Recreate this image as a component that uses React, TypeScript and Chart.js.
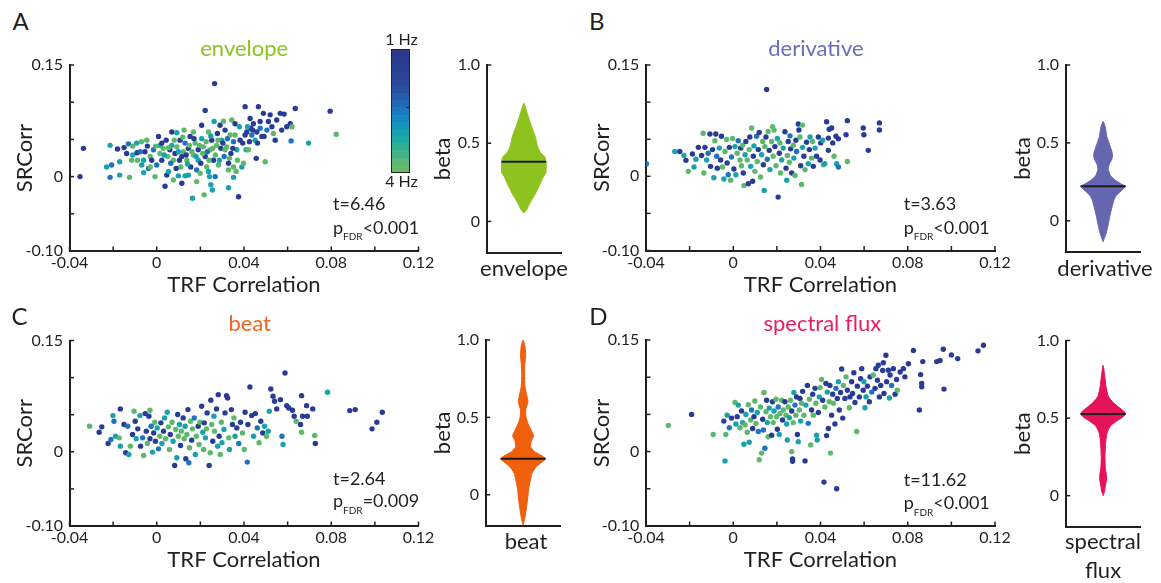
import React, { useEffect, useRef } from 'react';
import { Chart, registerables } from 'chart.js';

Chart.register(...registerables);

const FONT = "Lato, 'DejaVu Sans', sans-serif";
const INK = '#231f20';
const TICK_SIZE = 16;
const TITLE_SIZE = 22;

// frequency classes: 0 ≈ 1 Hz (dark blue) … 3 ≈ 4 Hz (green)
const freqColors = ['#283b95', '#1f72bd', '#19a1ac', '#5cb86a'];
const colorbarColors = ['#2a3a8d', '#2b3c90', '#2b3f94', '#2b4398', '#2b479c', '#2a4ea2', '#275aa9', '#2068b3', '#1a78bd', '#1687c0', '#1595bb', '#17a1b0', '#1ea9a2', '#2fae94', '#43b286', '#57b679', '#67ba6c'];

const xTickValues = [-0.04, -0.02, 0, 0.02, 0.04, 0.06, 0.08, 0.1, 0.12];
const xTickLabels = ['-0.04', '', '0', '', '0.04', '', '0.08', '', '0.12'];
const yTickValues = [-0.1, -0.05, 0, 0.05, 0.1, 0.15];
const yTickLabels = ['-0.10', '', '0', '', '', '0.15'];
const betaTickValues = [0, 0.5, 1];
const betaTickLabels = ['0', '0.5', '1.0'];

// [TRF correlation, SRCorr, frequency class]
const envelopePoints = [
  [-0.0352, 0, 0], [-0.0336, 0.038, 0], [-0.023, 0.013, 2], [-0.0214, 0.042, 2], [-0.0214, -0.001, 1], [-0.0207, 0.0156, 1], [-0.018, 0.037, 0], [-0.017, 0.002, 2], [-0.017, 0.02, 2], [-0.015, 0.039, 0], [-0.013, 0.044, 1], [-0.0125, -0.001, 3], [-0.0115, 0.022, 3], [-0.011, 0.029, 2], [-0.011, 0.041, 3], [-0.009, 0.032, 0], [-0.0076, 0.0335, 1], [-0.007, 0.047, 3], [-0.006, 0.022, 2], [-0.006, 0.0054, 2], [-0.0054, 0.0335, 0], [-0.0046, 0.049, 3], [-0.0043, 0.041, 0], [-0.0038, 0.011, 1], [-0.003, 0.027, 3], [-0.0023, 0.022, 0], [-0.0015, 0.036, 1], [-0.0008, 0, 3], [0, 0.0156, 1], [0.0008, 0.054, 0], [0.0015, 0.042, 2], [0.0015, 0.031, 3], [0.0023, 0.022, 0], [0.003, 0.038, 3], [0.0038, -0.013, 0], [0.0043, 0.049, 0], [0.0046, 0.002, 0], [0.005, 0.027, 3], [0.0054, 0.007, 2], [0.006, 0.036, 0], [0.0069, 0.06, 0], [0.0069, 0.042, 2], [0.0076, 0.022, 3], [0.0084, 0.031, 0], [0.0092, 0.059, 2], [0.0092, 0.04, 3], [0.0099, 0.001, 2], [0.0107, 0.049, 0], [0.011, 0.013, 3], [0.0115, -0.009, 0], [0.0115, 0.027, 0], [0.0122, 0.0335, 3], [0.0125, 0.0625, 3], [0.013, 0.045, 1], [0.013, 0.001, 2], [0.0138, 0.022, 3], [0.0145, 0.038, 0], [0.0153, 0.054, 0], [0.0156, 0.013, 0], [0.0164, -0.029, 2], [0.0168, 0.029, 3], [0.0168, 0.06, 3], [0.0176, 0.045, 3], [0.0183, 0.009, 1], [0.0183, -0.0067, 3], [0.019, 0.036, 0], [0.019, 0.022, 2], [0.0199, 0.0045, 3], [0.0206, 0.069, 0], [0.0206, 0.051, 2], [0.0214, 0.04, 3], [0.0217, -0.0245, 3], [0.0222, 0.089, 0], [0.0222, 0.027, 0], [0.0229, 0.013, 3], [0.0237, 0.06, 3], [0.0242, 0, 2], [0.0245, 0.036, 3], [0.0248, -0.011, 2], [0.0252, 0.049, 0], [0.0255, -0.018, 2], [0.026, 0.022, 0], [0.0263, 0.074, 2], [0.0265, 0.125, 0], [0.0268, 0, 1], [0.0275, 0.042, 3], [0.0278, 0.058, 0], [0.0283, 0.0156, 3], [0.029, 0.069, 0], [0.0294, 0.038, 0], [0.0298, 0.049, 2], [0.0306, 0.0745, 3], [0.0309, 0.027, 1], [0.0313, 0.0625, 0], [0.0321, 0.04, 3], [0.0329, -0.015, 2], [0.0329, 0.018, 0], [0.0336, 0.056, 3], [0.034, 0.031, 0], [0.0344, 0.076, 3], [0.0352, 0.047, 1], [0.0352, 0.013, 3], [0.0359, 0.071, 0], [0.0364, 0.007, 3], [0.0367, 0.036, 2], [0.0375, -0.027, 0], [0.0379, 0.067, 2], [0.0382, 0.049, 0], [0.039, 0.013, 2], [0.0398, 0.018, 3], [0.0405, 0.094, 0], [0.041, 0.036, 2], [0.0413, 0.06, 0], [0.042, 0.036, 3], [0.0428, 0.078, 0], [0.0431, 0.065, 0], [0.0436, 0.056, 1], [0.0443, 0.071, 0], [0.0451, 0.049, 2], [0.0456, 0.0245, 0], [0.0459, 0.06, 0], [0.0466, 0.094, 0], [0.0474, 0.074, 0], [0.0482, 0.054, 0], [0.0489, 0.085, 0], [0.0497, 0.02, 3], [0.0505, 0.0625, 1], [0.0512, 0.074, 0], [0.052, 0.083, 0], [0.0535, 0.058, 3], [0.055, 0.076, 0], [0.0566, 0.085, 0], [0.0573, 0.0625, 0], [0.0584, 0.084, 0], [0.0596, 0.067, 0], [0.0612, 0.071, 0], [0.0616, 0.048, 1], [0.062, 0.067, 3], [0.0635, 0.0915, 0], [0.0696, 0.045, 2], [0.0795, 0.088, 0], [0.0823, 0.057, 3],
  [0.0023, 0.045, 0], [0.0034, 0.029, 2], [0.0054, 0.039, 3], [0.0064, 0.018, 1], [0.008, 0.049, 3], [0.0089, 0.011, 0], [0.0099, 0.0335, 2], [0.0104, 0.022, 0], [0.0119, 0.053, 3], [0.0135, 0.029, 0], [0.0141, 0.017, 2], [0.015, 0.042, 3], [0.0161, 0.0335, 3], [0.0171, 0.051, 0], [0.018, 0.027, 2], [0.0196, 0.042, 3], [0.0202, 0.018, 0], [0.0211, 0.031, 3], [0.0226, 0.047, 3], [0.0232, 0.0335, 1], [0.024, 0.022, 3], [0.0248, 0.0545, 2], [0.0257, 0.038, 3], [0.0269, 0.029, 3], [0.0281, 0.049, 3], [0.0287, 0.022, 2], [0.0303, 0.045, 0], [0.0313, 0.036, 3], [0.0324, 0.051, 1], [0.0333, 0.0245, 3], [0.0349, 0.038, 0], [0.0359, 0.056, 3], [0.037, 0.022, 3], [0.0394, 0.045, 0], [0.0405, 0.056, 0], [0.0416, 0.067, 2], [0.0425, 0.047, 0], [0.044, 0.0625, 0], [0.0462, 0.045, 0], [0.0474, 0.065, 1], [0.0492, 0.054, 0], [0.0528, 0.067, 0], [0.0543, 0.049, 0], [-0.003, 0.013, 3], [-0.0069, 0.0156, 2], [-0.0089, 0.022, 3], [-0.0138, 0.031, 0], [-0.0092, 0.045, 2], [-0.0005, 0.041, 3], [0.0076, -0.0045, 3], [0.0145, 0.002, 2], [0.0352, -0.001, 2], [0.0329, 0.009, 3], [0.0237, 0.007, 2],
];

const derivativePoints = [
  [-0.0398, 0.017, 1], [-0.0268, 0.0335, 2], [-0.0245, 0.0335, 0], [-0.0226, 0.028, 2], [-0.0217, 0.0215, 0], [-0.0206, 0.0067, 3], [-0.0187, 0.03, 0], [-0.018, 0.0125, 2], [-0.0171, 0.023, 2], [-0.016, 0.039, 0], [-0.0145, 0.028, 0], [-0.0138, 0.058, 3], [-0.0135, 0.0045, 3], [-0.013, 0.039, 0], [-0.0122, 0.022, 2], [-0.0115, 0.031, 1], [-0.0107, 0.057, 0], [-0.0104, 0.0134, 0], [-0.0095, 0.036, 0], [-0.0089, -0.002, 2], [-0.0084, 0.048, 3], [-0.008, 0.057, 0], [-0.0076, 0.027, 1], [-0.0073, 0.011, 0], [-0.0064, 0.038, 2], [-0.0058, 0.022, 0], [-0.0054, 0.054, 0], [-0.0049, 0.0125, 3], [-0.0043, -0.0036, 2], [-0.0038, 0.0335, 3], [-0.003, 0.0495, 3], [-0.0028, 0.018, 0], [-0.0023, 0.002, 1], [-0.0018, 0.039, 0], [-0.0012, -0.0054, 3], [-0.0008, 0.026, 1], [-0.0003, 0.051, 3], [0.0003, 0.0098, 0], [0.0008, 0.04, 2], [0.0012, 0.002, 2], [0.0018, 0.031, 3], [0.0023, 0.048, 1], [0.0031, 0.022, 3], [0.0034, 0.038, 0], [0.0038, 0.0143, 3], [0.0043, 0.042, 3], [0.0046, 0.0045, 0], [0.0049, -0.0125, 3], [0.0054, 0.029, 2], [0.0058, 0.047, 0], [0.0064, 0.022, 3], [0.0069, -0.01, 0], [0.0073, 0.036, 3], [0.0076, 0.053, 0], [0.008, 0.0134, 2], [0.0084, 0.065, 3], [0.0089, -0.0067, 0], [0.0092, 0.027, 0], [0.0095, 0.041, 2], [0.0099, 0.0067, 3], [0.0107, 0.054, 1], [0.011, 0.02, 3], [0.0115, 0.036, 0], [0.0119, 0.059, 0], [0.0125, -0.001, 3], [0.013, 0.029, 2], [0.0135, 0.047, 3], [0.0138, 0.0156, 0], [0.0142, -0.019, 2], [0.0145, 0.04, 3], [0.015, 0.053, 0], [0.0153, 0.117, 0], [0.0156, 0.023, 1], [0.016, 0.0605, 3], [0.0165, 0.035, 0], [0.0168, 0.009, 2], [0.0176, 0.047, 3], [0.018, 0.067, 3], [0.0183, 0.027, 3], [0.0187, 0.0625, 3], [0.0191, 0.04, 0], [0.0196, 0.0143, 3], [0.0202, 0.051, 2], [0.0206, -0.028, 0], [0.0211, 0.031, 0], [0.0214, 0.045, 3], [0.0217, 0.0045, 3], [0.0222, 0.022, 2], [0.0229, 0.038, 2], [0.0237, 0.06, 0], [0.0242, 0.011, 0], [0.0245, -0.0054, 2], [0.0248, 0.028, 3], [0.0252, 0.047, 0], [0.0257, 0.019, 3], [0.026, 0.0545, 1], [0.0263, 0.037, 0], [0.0268, 0.0045, 0], [0.0275, 0.042, 3], [0.0278, 0.0245, 2], [0.0283, 0.001, 3], [0.0287, 0.0485, 0], [0.029, 0.0335, 1], [0.0298, 0.0705, 0], [0.0301, 0.0625, 0], [0.0306, 0.053, 3], [0.0309, 0.0143, 0], [0.0313, -0.011, 3], [0.0317, 0.069, 3], [0.0318, 0.039, 2], [0.0324, 0.027, 0], [0.0329, 0.009, 3], [0.0336, 0.046, 0], [0.0344, 0.017, 2], [0.0349, 0.036, 0], [0.0352, 0.053, 2], [0.0359, 0.0245, 3], [0.0364, 0.047, 3], [0.0367, 0.0134, 0], [0.0375, 0.038, 2], [0.0382, 0.027, 0], [0.039, 0.053, 0], [0.0398, 0.022, 0], [0.0401, 0.045, 0], [0.041, 0.0485, 2], [0.0413, 0.0156, 3], [0.042, 0.017, 2], [0.0428, 0.0735, 0], [0.0436, 0.035, 0], [0.044, 0.0635, 0], [0.0451, 0.065, 0], [0.0456, 0.045, 0], [0.0462, 0.027, 3], [0.0471, 0.054, 0], [0.0474, 0.017, 2], [0.0482, 0.0505, 0], [0.0482, 0.0125, 1], [0.0523, 0.02, 3], [0.0517, 0.056, 0], [0.0523, 0.075, 0], [0.0596, 0.065, 0], [0.0599, 0.056, 0], [0.0619, 0.035, 0], [0.067, 0.072, 0], [0.067, 0.0625, 0], [0.0436, 0.0515, 0],
];

const beatPoints = [
  [-0.0308, 0.0345, 3], [-0.0264, 0.0264, 0], [-0.0252, 0.0336, 0], [-0.0223, 0.0112, 0], [-0.021, 0.0166, 1], [-0.0201, 0.0488, 2], [-0.0196, 0.0412, 1], [-0.0189, 0.021, 2], [-0.0172, 0.0188, 3], [-0.0167, 0.0578, 0], [-0.0167, 0.0076, 2], [-0.015, 0.0367, 0], [-0.0142, -0.0013, 0], [-0.0133, 0.0345, 1], [-0.0128, -0.0036, 2], [-0.0121, 0.0076, 3], [-0.0111, 0.0233, 0], [-0.0104, 0.0546, 3], [-0.0099, 0.0412, 0], [-0.0094, 0.0175, 2], [-0.0087, 0.0309, 0], [-0.0077, 0.0488, 2], [-0.0074, 0.0076, 0], [-0.0065, 0.0188, 1], [-0.006, -0.0049, 3], [-0.0053, 0.0515, 0], [-0.0048, 0.0278, 0], [-0.0043, 0.0112, 3], [-0.0036, 0.0479, 0], [-0.0031, 0.056, 3], [-0.0031, 0.0175, 0], [-0.0026, 0.0345, 1], [-0.0019, -0.0004, 2], [-0.0014, 0.0255, 0], [-0.0009, 0.0399, 3], [-0.0006, 0.0143, 0], [0.0002, 0.0322, 2], [0.0008, 0.004, 1], [0.0014, 0.021, 3], [0.0019, 0.039, 0], [0.0024, 0.0112, 2], [0.0031, 0.0278, 0], [0.0036, 0.0457, 2], [0.0041, 0.0175, 3], [0.0048, 0.0533, 2], [0.0053, 0.0336, 3], [0.0058, 0.0031, 3], [0.0062, 0.0233, 0], [0.007, 0.0399, 3], [0.0075, 0.0143, 2], [0.0082, -0.0184, 0], [0.0087, 0.03, 3], [0.0092, -0.0081, 2], [0.0096, 0.0502, 0], [0.0099, 0.021, 3], [0.0104, 0.0367, 2], [0.0109, 0.0085, 0], [0.0113, 0.0278, 3], [0.0121, 0.0457, 0], [0.0126, 0.0175, 3], [0.013, 0.0345, 2], [0.0133, -0.0094, 0], [0.0138, 0.0233, 3], [0.0143, 0.0569, 0], [0.0147, -0.0148, 1], [0.015, 0.0054, 3], [0.0155, 0.0412, 3], [0.016, 0.0157, 0], [0.0164, 0.0309, 3], [0.0172, 0.0457, 1], [0.0177, -0.0036, 2], [0.0181, 0.021, 3], [0.019, 0.0345, 0], [0.0194, 0.0099, 3], [0.0198, 0.0399, 3], [0.0206, 0.0614, 0], [0.0211, 0.0264, 2], [0.0215, 0.0031, 3], [0.0218, 0.039, 0], [0.0223, 0.0188, 2], [0.0228, 0.0309, 3], [0.0231, 0.0524, 0], [0.024, -0.0184, 0], [0.0245, -0.0013, 3], [0.0248, 0.0694, 0], [0.0252, 0.0367, 3], [0.0257, 0.0143, 0], [0.0262, 0.0479, 2], [0.0265, 0.0278, 3], [0.0274, 0.0578, 0], [0.0279, 0.0076, 2], [0.0282, 0.077, 0], [0.0286, 0.021, 0], [0.0291, -0.0036, 3], [0.0296, 0.0399, 3], [0.0299, 0.0121, 2], [0.0308, 0.03, 2], [0.0313, 0.0524, 0], [0.032, 0.0757, 0], [0.0325, 0.0725, 0], [0.033, 0.0188, 3], [0.0333, 0.0031, 2], [0.0342, 0.0569, 0], [0.0347, 0.0367, 0], [0.0354, 0.0457, 3], [0.0359, 0.021, 2], [0.0367, 0.0322, 0], [0.0376, 0.0112, 1], [0.0384, 0.0399, 0], [0.0393, 0.0255, 3], [0.0401, 0.0031, 3], [0.0405, 0.0533, 0], [0.0415, -0.0139, 1], [0.0418, 0.0367, 0], [0.0427, 0.0873, 0], [0.0435, 0.0488, 0], [0.0444, 0.021, 2], [0.0452, 0.0515, 0], [0.0461, 0.0322, 1], [0.0469, 0.0121, 3], [0.0477, 0.0412, 0], [0.0486, 0.0255, 0], [0.0494, 0.0345, 2], [0.0503, 0.021, 3], [0.0511, 0.0278, 2], [0.0516, 0.0546, 2], [0.0523, 0.0846, 0], [0.0533, 0.0748, 0], [0.054, 0.0681, 0], [0.055, 0.0578, 0], [0.0567, 0.0703, 0], [0.0574, 0.021, 1], [0.0579, 0.0099, 2], [0.0588, 0.1061, 0], [0.0596, 0.0622, 0], [0.0605, 0.0591, 0], [0.0622, 0.056, 0], [0.063, 0.0479, 0], [0.0639, 0.0412, 3], [0.0659, 0.0367, 0], [0.0664, 0.0757, 0], [0.0669, 0.0479, 0], [0.0664, 0.0264, 3], [0.0687, 0.0622, 0], [0.069, 0.0479, 0], [0.0715, 0.0578, 0], [0.0724, 0.0219, 3], [0.0727, 0.0112, 0], [0.0783, 0.0802, 2], [0.0885, 0.0555, 0], [0.091, 0.0569, 0], [0.0987, 0.0309, 0], [0.1009, 0.0399, 0], [0.1034, 0.0533, 0],
];

const spectralFluxPoints = [
  [-0.0298, 0.035, 3], [-0.0191, 0.05, 0], [-0.0092, 0.023, 3], [-0.0038, -0.0125, 2], [-0.0043, 0.041, 0], [-0.0034, 0.023, 3], [-0.0028, 0.049, 2], [-0.0018, 0.032, 1], [-0.0008, 0.045, 0], [0.0008, 0.066, 3], [0.0012, 0.037, 2], [0.0018, 0.047, 0], [0.0023, 0.0625, 2], [0.0031, 0.032, 3], [0.0038, 0.0545, 0], [0.0043, 0.039, 2], [0.0049, 0.0098, 2], [0.0054, 0.036, 3], [0.0058, 0.05, 2], [0.0064, 0.026, 3], [0.0069, 0.063, 3], [0.0073, 0.0125, 2], [0.008, 0.0425, 3], [0.0084, 0.056, 1], [0.0089, 0.031, 0], [0.0095, 0.047, 0], [0.0099, 0.068, 3], [0.0104, 0.038, 3], [0.011, 0.0525, 2], [0.0115, 0.027, 1], [0.0119, -0.011, 3], [0.0125, 0.06, 3], [0.013, -0.002, 3], [0.0135, 0.0435, 0], [0.0138, 0.029, 1], [0.0141, 0.0795, 3], [0.0145, 0.0045, 1], [0.015, 0.0535, 3], [0.0153, 0.069, 0], [0.0156, 0.039, 2], [0.016, 0.02, 3], [0.0165, 0.0585, 2], [0.0171, 0.047, 3], [0.0176, 0.022, 0], [0.018, 0.067, 0], [0.0183, 0.039, 3], [0.0187, 0.0545, 2], [0.0196, 0.0705, 3], [0.0199, 0.047, 3], [0.0202, 0.03, 0], [0.0206, 0.06, 1], [0.0211, 0.023, 2], [0.0214, 0.051, 3], [0.0222, 0.069, 3], [0.0226, 0.0425, 0], [0.0229, 0.056, 3], [0.0237, 0.067, 0], [0.0242, 0.049, 3], [0.0245, 0.037, 2], [0.0248, 0.0156, 2], [0.0252, 0.06, 3], [0.0257, 0.0455, 2], [0.0263, 0.069, 3], [0.0268, 0, 3], [0.0268, 0.0545, 0], [0.0272, -0.01, 0], [0.0272, -0.013, 0], [0.0275, 0.039, 3], [0.0278, 0.0795, 2], [0.0283, 0.0625, 1], [0.0287, 0.049, 3], [0.029, 0.0735, 0], [0.0294, 0.023, 0], [0.0298, 0.0134, 2], [0.0303, 0.056, 3], [0.0306, 0.0715, 0], [0.0309, 0.041, 2], [0.0313, 0.065, 3], [0.0318, 0.081, 0], [0.0324, 0.049, 3], [0.0329, -0.0125, 0], [0.0333, 0.0625, 2], [0.034, 0.089, 0], [0.0344, 0.038, 1], [0.0349, 0.0705, 3], [0.0355, 0.009, 3], [0.0359, 0.056, 0], [0.0364, 0.077, 0], [0.0367, 0.049, 3], [0.0375, 0.085, 0], [0.0379, 0.065, 3], [0.0382, 0.022, 2], [0.0385, 0.0156, 2], [0.039, 0.0525, 0], [0.0394, 0.0735, 2], [0.0398, 0.086, 3], [0.0405, 0.097, 3], [0.041, 0.069, 0], [0.0416, -0.041, 0], [0.042, 0.06, 3], [0.0425, 0.0915, 0], [0.0428, 0.0215, 0], [0.0431, 0.08, 2], [0.0436, 0.031, 0], [0.044, 0.067, 3], [0.0443, 0.089, 0], [0.0446, -0.002, 3], [0.0451, 0.049, 0], [0.0456, 0.077, 0], [0.0459, 0.065, 3], [0.0466, 0.037, 0], [0.0471, 0.085, 1], [0.0474, -0.05, 0], [0.0477, 0.0715, 0], [0.0482, 0.094, 2], [0.0486, 0.056, 0], [0.0492, 0.0795, 0], [0.0497, 0.111, 0], [0.0502, 0.045, 0], [0.0505, 0.089, 3], [0.0512, 0.0715, 0], [0.0517, 0.1005, 3], [0.0523, 0.0825, 0], [0.0532, 0.059, 3], [0.0535, 0.0735, 0], [0.0543, 0.094, 0], [0.0547, 0.078, 0], [0.0553, 0.106, 0], [0.0558, 0.066, 0], [0.0566, 0.027, 3], [0.0569, 0.088, 0], [0.0578, 0.0735, 0], [0.0584, 0.098, 0], [0.0589, 0.1115, 0], [0.0596, 0.0825, 0], [0.0599, 0.094, 2], [0.0604, 0.059, 2], [0.0609, 0.0735, 2], [0.0615, 0.088, 0], [0.0624, 0.067, 0], [0.0627, 0.1005, 0], [0.0635, 0.08, 1], [0.0642, 0.103, 3], [0.065, 0.085, 0], [0.0654, 0.1115, 0], [0.0661, 0.096, 0], [0.0665, 0.116, 0], [0.067, 0.0735, 0], [0.0676, 0.089, 0], [0.0685, 0.109, 0], [0.0688, 0.1195, 0], [0.0691, 0.078, 0], [0.07, 0.1295, 0], [0.0703, 0.094, 0], [0.0711, 0.1095, 0], [0.0716, 0.072, 2], [0.0719, 0.103, 0], [0.0726, 0.089, 1], [0.0734, 0.1115, 0], [0.0742, 0.077, 0], [0.0749, 0.097, 0], [0.0752, 0.0825, 3], [0.0765, 0.107, 0], [0.078, 0.1115, 0], [0.0787, 0.1005, 0], [0.0803, 0.118, 0], [0.0826, 0.136, 0], [0.0853, 0.056, 0], [0.0859, 0.1035, 0], [0.0864, 0.0915, 0], [0.0864, 0.087, 0], [0.0869, 0.121, 0], [0.0933, 0.121, 0], [0.0948, 0.1225, 0], [0.0963, 0.1375, 0], [0.0966, 0.084, 0], [0.1, 0.13, 0], [0.1029, 0.125, 0], [0.1122, 0.1354, 0], [0.1147, 0.143, 0],
];

// violin outlines: beta levels (bottom→top) and half-widths (relative)
const envelopeLevels = [0.054, 0.08, 0.117, 0.181, 0.245, 0.287, 0.309, 0.33, 0.381, 0.415, 0.44, 0.479, 0.542, 0.606, 0.67, 0.7, 0.756];
const envelopeWidths = [0, 0.09, 0.16, 0.32, 0.45, 0.53, 0.59, 0.6, 0.6, 0.56, 0.45, 0.37, 0.31, 0.21, 0.12, 0.08, 0];
const envelopeMedian = 0.381;

const derivativeLevels = [-0.134, -0.08, -0.03, 0.03, 0.09, 0.14, 0.17, 0.2, 0.222, 0.235, 0.26, 0.29, 0.33, 0.36, 0.4, 0.43, 0.47, 0.54, 0.6, 0.638];
const derivativeWidths = [0, 0.08, 0.13, 0.18, 0.24, 0.3, 0.38, 0.52, 0.6, 0.5, 0.33, 0.2, 0.14, 0.16, 0.24, 0.25, 0.2, 0.1, 0.06, 0];
const derivativeMedian = 0.222;

const beatLevels = [-0.195, -0.16, -0.1, -0.03, 0.04, 0.1, 0.14, 0.18, 0.21, 0.233, 0.255, 0.28, 0.31, 0.35, 0.38, 0.41, 0.45, 0.5, 0.55, 0.6, 0.64, 0.7, 0.78, 0.85, 0.9, 0.96, 1.0];
const beatWidths = [0, 0.04, 0.08, 0.12, 0.15, 0.2, 0.24, 0.35, 0.5, 0.6, 0.48, 0.3, 0.2, 0.22, 0.28, 0.23, 0.15, 0.08, 0.07, 0.13, 0.1, 0.05, 0.035, 0.05, 0.07, 0.05, 0];
const beatMedian = 0.233;

const spectralLevels = [0, 0.03, 0.06, 0.1, 0.13, 0.18, 0.25, 0.33, 0.4, 0.45, 0.48, 0.505, 0.527, 0.545, 0.57, 0.6, 0.64, 0.7, 0.78, 0.84];
const spectralWidths = [0, 0.04, 0.06, 0.09, 0.09, 0.06, 0.05, 0.065, 0.1, 0.2, 0.36, 0.52, 0.6, 0.55, 0.42, 0.27, 0.14, 0.08, 0.04, 0];
const spectralMedian = 0.527;

const featureColors = { envelope: '#8dc21f', derivative: '#6466b0', beat: '#ef5f0c', spectral: '#e5135b' };

function inwardTicks(axes: string[], len: number) {
  return {
    id: 'inwardTicks',
    afterDraw(chart: any) {
      const { ctx, chartArea } = chart;
      ctx.save();
      ctx.strokeStyle = INK;
      ctx.lineWidth = 1.5;
      for (const id of axes) {
        const scale = chart.scales[id];
        for (const t of scale.ticks) {
          const p = scale.getPixelForValue(t.value);
          ctx.beginPath();
          if (scale.isHorizontal()) {
            ctx.moveTo(p, chartArea.bottom);
            ctx.lineTo(p, chartArea.bottom - len);
          } else {
            ctx.moveTo(chartArea.left, p);
            ctx.lineTo(chartArea.left + len, p);
          }
          ctx.stroke();
        }
      }
      ctx.restore();
    },
  };
}

const tickFont = { family: FONT, size: TICK_SIZE };
const titleFont = { family: FONT, size: TITLE_SIZE };

function scatterConfig(points: number[][], L: any) {
  const { x, y, w, h, area } = L;
  const tickLH = TICK_SIZE * 1.2;
  const titleLH = TITLE_SIZE * 1.2;
  return {
    type: 'scatter',
    data: {
      datasets: [{
        data: points.map((p) => ({ x: p[0], y: p[1] })),
        pointBackgroundColor: points.map((p) => freqColors[p[2]]),
        pointBorderWidth: 0,
        pointRadius: 2.7,
        pointHoverRadius: 2.7,
      }],
    },
    options: {
      responsive: false, animation: false, events: [],
      layout: { padding: { left: 0, top: area.t - y, right: x + w - area.r, bottom: 0 } },
      plugins: { legend: { display: false }, tooltip: { enabled: false } },
      scales: {
        x: {
          type: 'linear', min: -0.04, max: 0.12,
          afterBuildTicks: (s: any) => { s.ticks = xTickValues.map((v) => ({ value: v })); },
          afterFit: (s: any) => { s.height = y + h - area.b; },
          grid: { display: false, drawTicks: false },
          border: { display: true, color: INK, width: 2 },
          ticks: { autoSkip: false, maxRotation: 0, minRotation: 0, color: INK, font: tickFont, padding: L.xLabelMid - area.b - tickLH / 2, callback: (_v: any, i: number) => xTickLabels[i] },
          title: { display: true, text: 'TRF Correlation', color: INK, font: titleFont, padding: { top: 0, bottom: y + h - L.xTitleMid - titleLH / 2 } },
        },
        y: {
          type: 'linear', min: -0.1, max: 0.15,
          afterBuildTicks: (s: any) => { s.ticks = yTickValues.map((v) => ({ value: v })); },
          afterFit: (s: any) => { s.width = area.l - x; },
          grid: { display: false, drawTicks: false },
          border: { display: true, color: INK, width: 2 },
          ticks: { autoSkip: false, color: INK, font: tickFont, padding: area.l - L.yLabelRight, callback: (_v: any, i: number) => yTickLabels[i] },
          title: { display: true, text: 'SRCorr', color: INK, font: titleFont, padding: { top: L.yTitleMid - x - titleLH / 2, bottom: 0 } },
        },
      },
    },
    plugins: [inwardTicks(['x', 'y'], 4.5)],
  };
}

function violinConfig(levels: number[], widths: number[], median: number, color: string, L: any) {
  const { x, y, w, h, area } = L;
  const titleLH = TITLE_SIZE * 1.2;
  const outline: any[] = levels.map((l, i) => ({ x: widths[i], y: l }));
  for (let i = levels.length - 2; i >= 1; i--) outline.push({ x: -widths[i], y: levels[i] });
  outline.push({ x: widths[0], y: levels[0] });
  const mw = widths[levels.indexOf(median)];
  return {
    type: 'scatter',
    data: {
      datasets: [
        // dataset 0 is drawn last (on top): the median bar
        { data: [{ x: -mw, y: median }, { x: mw, y: median }], showLine: true, fill: false, borderColor: '#1a1a1a', borderWidth: 2, pointRadius: 0 },
        { data: outline, showLine: true, fill: 'shape', backgroundColor: color, borderColor: color, borderWidth: 1, pointRadius: 0, tension: 0.2 },
      ],
    },
    options: {
      responsive: false, animation: false, events: [],
      layout: { padding: { left: 0, top: area.t - y, right: x + w - area.r, bottom: 0 } },
      plugins: { legend: { display: false }, tooltip: { enabled: false } },
      scales: {
        x: {
          type: 'linear', min: -1, max: 1,
          afterFit: (s: any) => { s.height = y + h - area.b; },
          grid: { display: false, drawTicks: false },
          border: { display: true, color: INK, width: 2 },
          ticks: { display: false },
        },
        y: {
          type: 'linear', min: -0.2, max: 1,
          afterBuildTicks: (s: any) => { s.ticks = betaTickValues.map((v) => ({ value: v })); },
          afterFit: (s: any) => { s.width = area.l - x; },
          grid: { display: false, drawTicks: false },
          border: { display: true, color: INK, width: 2 },
          ticks: { autoSkip: false, color: INK, font: tickFont, padding: area.l - L.yLabelRight, callback: (_v: any, i: number) => betaTickLabels[i] },
          title: { display: true, text: 'beta', color: INK, font: titleFont, padding: { top: L.yTitleMid - x - titleLH / 2, bottom: 0 } },
        },
      },
    },
    plugins: [inwardTicks(['y'], 4.5)],
  };
}

const scatterLayouts = {
  A: { x: 0, y: 40, w: 440, h: 260, area: { l: 69.5, r: 418.5, t: 65, b: 251 }, xLabelMid: 263.3, xTitleMid: 285, yLabelRight: 63, yTitleMid: 25 },
  B: { x: 576, y: 40, w: 440, h: 260, area: { l: 646, r: 995, t: 65, b: 250.5 }, xLabelMid: 262.8, xTitleMid: 284.5, yLabelRight: 639.3, yTitleMid: 602 },
  C: { x: 0, y: 315, w: 440, h: 275, area: { l: 69.5, r: 418.5, t: 340.5, b: 526 }, xLabelMid: 538.3, xTitleMid: 559.5, yLabelRight: 63, yTitleMid: 25 },
  D: { x: 576, y: 315, w: 440, h: 275, area: { l: 646, r: 995, t: 340, b: 526 }, xLabelMid: 538.3, xTitleMid: 559.5, yLabelRight: 639.3, yTitleMid: 602 },
};
const violinLayouts = {
  A: { x: 425, y: 40, w: 150, h: 260, area: { l: 486.7, r: 561, t: 65, b: 252.7 }, yLabelRight: 480, yTitleMid: 442.5 },
  B: { x: 1005, y: 40, w: 150, h: 260, area: { l: 1065.7, r: 1140.5, t: 65, b: 252 }, yLabelRight: 1059, yTitleMid: 1022.5 },
  C: { x: 425, y: 315, w: 150, h: 275, area: { l: 485.7, r: 560.5, t: 340, b: 525.7 }, yLabelRight: 479, yTitleMid: 442.5 },
  D: { x: 1005, y: 315, w: 150, h: 275, area: { l: 1065.7, r: 1140.5, t: 340.5, b: 526.7 }, yLabelRight: 1059, yTitleMid: 1022.5 },
};

function ChartBox({ box, make }: any) {
  const ref = useRef<HTMLCanvasElement>(null);
  useEffect(() => {
    const chart = new Chart(ref.current as any, make());
    return () => chart.destroy();
  }, []);
  return <canvas ref={ref} width={box.w} height={box.h} style={{ position: 'absolute', left: box.x, top: box.y, width: box.w, height: box.h }} />;
}

function Label({ x, base, size, color = INK, align = 'center', children }: any) {
  const style: any = {
    position: 'absolute', left: x, top: base - 0.887 * size, fontSize: size, lineHeight: `${size}px`,
    fontFamily: FONT, color, whiteSpace: 'nowrap',
    transform: align === 'center' ? 'translateX(-50%)' : undefined,
  };
  return <div style={style}>{children}</div>;
}

function PValue({ x, base, text }: any) {
  return (
    <Label x={x} base={base} size={18} align="left">
      p<span style={{ fontSize: 10, lineHeight: 1, position: 'relative', top: 6.5 }}>FDR</span>{text}
    </Label>
  );
}

export default function App() {
  const n = colorbarColors.length;
  const stops = colorbarColors.map((c, i) => `${c} ${(i * 100) / n}%, ${c} ${((i + 1) * 100) / n}%`).join(', ');
  return (
    <div style={{ position: 'absolute', left: 0, top: 0, width: 1161, height: 583, overflow: 'hidden', background: '#fff' }}>
      <ChartBox box={scatterLayouts.A} make={() => scatterConfig(envelopePoints, scatterLayouts.A)} />
      <ChartBox box={scatterLayouts.B} make={() => scatterConfig(derivativePoints, scatterLayouts.B)} />
      <ChartBox box={scatterLayouts.C} make={() => scatterConfig(beatPoints, scatterLayouts.C)} />
      <ChartBox box={scatterLayouts.D} make={() => scatterConfig(spectralFluxPoints, scatterLayouts.D)} />
      <ChartBox box={violinLayouts.A} make={() => violinConfig(envelopeLevels, envelopeWidths, envelopeMedian, featureColors.envelope, violinLayouts.A)} />
      <ChartBox box={violinLayouts.B} make={() => violinConfig(derivativeLevels, derivativeWidths, derivativeMedian, featureColors.derivative, violinLayouts.B)} />
      <ChartBox box={violinLayouts.C} make={() => violinConfig(beatLevels, beatWidths, beatMedian, featureColors.beat, violinLayouts.C)} />
      <ChartBox box={violinLayouts.D} make={() => violinConfig(spectralLevels, spectralWidths, spectralMedian, featureColors.spectral, violinLayouts.D)} />

      <div style={{ position: 'absolute', left: 391, top: 49, width: 17, height: 121.5, border: `1.5px solid ${INK}`, background: `linear-gradient(to bottom, ${stops})` }} />
      <div style={{ position: 'absolute', left: 406, top: 106.5, width: 3, height: 1.5, background: INK }} />
      <Label x={401.5} base={45} size={16}>1 Hz</Label>
      <Label x={401.5} base={187} size={16}>4 Hz</Label>

      <Label x={20.5} base={30.5} size={24}>A</Label>
      <Label x={596.7} base={30.5} size={24}>B</Label>
      <Label x={19.5} base={325.5} size={24}>C</Label>
      <Label x={598.5} base={325.5} size={24}>D</Label>

      <Label x={244.2} base={56.5} size={22} color={featureColors.envelope}>envelope</Label>
      <Label x={815.9} base={56.5} size={22} color="#6a6db8">derivative</Label>
      <Label x={249.7} base={331.5} size={22} color="#f26522">beat</Label>
      <Label x={822.3} base={331.5} size={22} color="#ec1c5e">spectral flux</Label>

      <Label x={333} base={210} size={18} align="left">t=6.46</Label>
      <PValue x={333} base={233.5} text="<0.001" />
      <Label x={903.7} base={210} size={18} align="left">t=3.63</Label>
      <PValue x={903.7} base={233.5} text="<0.001" />
      <Label x={333} base={485} size={18} align="left">t=2.64</Label>
      <PValue x={333} base={507} text="=0.009" />
      <Label x={903.7} base={486} size={18} align="left">t=11.62</Label>
      <PValue x={903.7} base={509} text="<0.001" />

      <Label x={524} base={277} size={22}>envelope</Label>
      <Label x={1105} base={277} size={22}>derivative</Label>
      <Label x={526} base={550} size={22}>beat</Label>
      <Label x={1103} base={549.5} size={22}>spectral</Label>
      <Label x={1103} base={578.5} size={22}>flux</Label>
    </div>
  );
}
